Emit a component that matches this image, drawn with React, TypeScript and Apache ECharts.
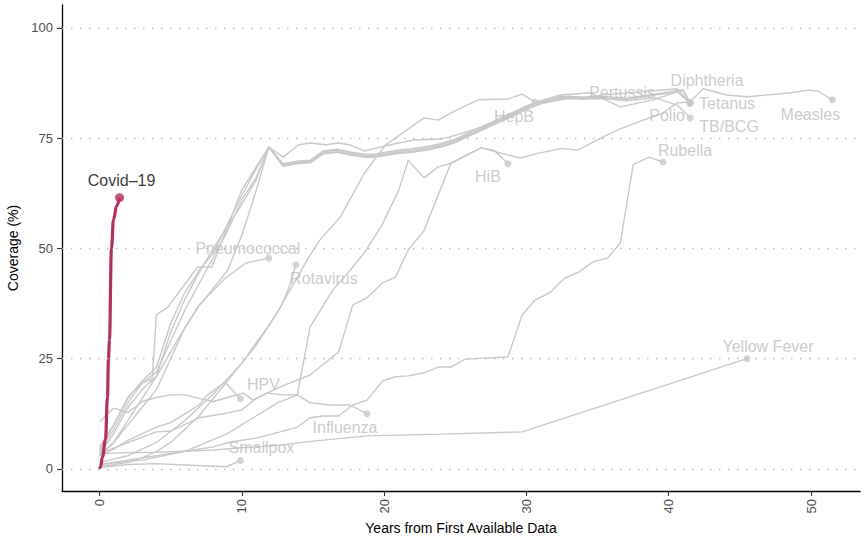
import React, { useEffect, useRef } from "react";
import * as echarts from "echarts";

// ---- data (years from first available data, coverage %) ----
const covid = [[0,0],[0.07,0.5],[0.21,2.7],[0.42,6.6],[0.56,16.3],[0.63,24.9],[0.7,29.3],[0.84,50],[0.98,56.5],[1.2,59.6],[1.41,61.5]];

const smallpox = [[0,0.3],[2,1],[4,1.2],[6,0.9],[8.9,0.5],[9.9,1.9]];
const yellowFever = [[0,3.5],[2,3.7],[4,3.8],[6,4],[8,4.3],[10,4.8],[12.7,5.4],[15,6.3],[18.8,7.5],[24,7.9],[29.7,8.4],[45.5,25]];
const hpv = [[0,3],[1,4.5],[2,6.5],[3,8],[4,9.5],[5,10.5],[6,12.5],[7,14.5],[7.5,16.5],[8.8,19.7],[9.9,15.9]];
const influenza = [[0,10.7],[1,13.8],[2,12.8],[3,15.3],[4,16.2],[5,16.8],[6,16.8],[7,16],[8,15.3],[9,16.2],[10.1,17.2],[10.8,15.6],[11.8,17.2],[12.9,16.8],[13.9,16.8],[14.8,15],[16.2,14.5],[17.6,14.5],[18.8,12.5]];
const rotavirus = [[0,0.5],[2,1.5],[3,2.5],[4,4],[5,6],[6,9],[7,12],[8,16],[9,20],[10,24],[11,28],[12,33],[12.7,36.5],[13.3,41],[13.8,46.3]];
const pneumococcal = [[0,3],[1,6],[2,11],[3,16],[4,21],[5,26.5],[5.5,29.3],[7,37.2],[8.85,43.3],[10.3,46.7],[11.9,47.8]];
const hepB = [[0,1.5],[2,3],[4,6],[6,11],[8,17],[10,24],[11,28.5],[12,33],[12.7,36.7],[14.6,47.4],[15.5,52],[16.9,57],[18.6,67],[20.1,73.5],[21,75.5],[22.8,79.6],[23.8,79.1],[24.8,80.9],[26.6,83.7],[28.7,83.9],[29.7,85],[30.6,83.2]];
const hib = [[0,1],[3,2],[6,4],[9,8],[11,12],[12.5,15],[13.9,16.8],[14.8,32.2],[16.4,40.6],[17.6,45],[18.6,49],[19.8,55],[21,63],[21.7,70],[22.8,66],[23.8,68.5],[24.8,69.4],[26.8,72.8],[27.7,72.3],[28.7,69.2]];
const measles = [[0,3.4],[2,6],[4,8.4],[5,8.6],[7,11.6],[9,12.7],[10,13.4],[11,16],[12.7,18.6],[14.8,21.3],[16.8,26.5],[17.8,37.2],[18.8,38.8],[19.9,42.2],[20.8,43.5],[21.7,49.7],[22.8,54],[24.7,69.4],[26.8,72.8],[28.7,71.2],[29.6,70.5],[30.7,71.5],[32.5,72.7],[33.6,72.3],[35.4,75.3],[36.5,77],[38.2,79.1],[39.5,80.5],[40.6,83],[41.5,83.2],[42.4,86.2],[44.1,84.8],[45.5,84.4],[48.6,85.3],[49.8,85.9],[50.5,85.7],[51.5,83.7]];
const rubella = [[0,1],[2,2],[4,3],[6,4],[8,5],[9.2,6.1],[11,7],[12.7,8.4],[13.9,9.5],[14.8,11.6],[15.7,12],[16.8,12],[17.8,14.5],[18.8,15.6],[19.9,20],[20.8,20.9],[21.7,21.1],[22.8,21.8],[23.8,23.1],[24.7,23.1],[25.7,24.9],[28.7,25.4],[29.7,34.9],[30.6,38.3],[31.7,40.1],[32.7,43.3],[33.7,44.7],[34.7,47],[35.7,47.8],[36.6,51.2],[37.5,69],[38.6,70.7],[39.6,69.6]];
const diphtheria = [[0,4],[1,9],[2,15],[3,19.5],[4,22],[5,29],[6,36],[7,42],[8,48],[9,54],[10,61],[11,66],[11.9,73],[12.9,69],[13.9,69.6],[14.8,69.8],[15.7,71.9],[16.7,72.3],[17.6,71.7],[18.8,71],[19.5,71.2],[21.2,72.1],[22,72.3],[23,72.8],[24,73.5],[25,74.5],[26,76],[27,77.5],[28,79],[29,80.5],[30,82],[31,83.3],[32,84],[33,84.5],[34,84.2],[35,84.5],[36,84.3],[37,84],[38,84.5],[39,85],[40,85.5],[41,86],[41.5,83]];
const tetanus = [[0,3.5],[1,8],[2,14],[3,18],[4,21],[5,31],[6,38.5],[7,44.5],[8,50],[9,55],[10,60],[11,65.5],[11.9,73],[12.9,68.8],[13.9,69.4],[14.8,69.6],[15.7,71.6],[16.7,72],[17.6,71.4],[18.8,70.8],[19.5,71],[21.2,71.8],[22,72],[23,72.5],[24,73.2],[25,74.2],[26,75.8],[27,77.2],[28,78.8],[29,80.2],[30,81.8],[31,83],[32,83.8],[33,84.2],[34,84],[35,84.2],[36,84],[37,83.8],[38,84.2],[39,84.8],[40,85.2],[41,85.8],[41.5,83]];
const pertussis = [[0,4.5],[1,10],[2,16],[3,20],[4,23],[5,33],[6,40],[7,45],[8,49],[9,55.5],[10,62],[11,68],[11.9,73],[12.9,69.2],[13.9,69.8],[14.8,70],[15.7,72.1],[16.7,72.5],[17.6,71.9],[18.8,71.3],[19.5,71.5],[21.2,72.4],[22,72.6],[23,73.1],[24,73.8],[25,74.8],[26,76.3],[27,77.8],[28,79.3],[29,80.8],[30,82.3],[31,83.5],[32.4,84.8],[34.5,85.3],[36.6,82.1],[38.9,83.7],[40.6,85.5],[41.5,83]];
const polio = [[0,3],[1,6],[2,10],[3,14],[4,18],[5,25],[6,32],[7,37],[8,41],[9,45],[10,53],[11,63],[11.9,73],[12.9,68.6],[13.9,69.2],[14.8,69.4],[15.7,71.4],[16.7,71.8],[17.6,71.2],[18.8,70.6],[19.5,70.8],[21.2,71.6],[22,71.8],[23,72.3],[24,73],[25,74],[26,75.5],[27,77],[28,78.5],[29,80],[30,81.5],[31,82.8],[32,83.5],[33,84],[34,83.8],[35,84],[36,83.8],[37,83.5],[38,83.8],[39,84.2],[40.6,82.5],[41.5,79.6]];
const tbBcg = [[0,5],[1,10],[2,16.3],[3,19.5],[3.7,20.4],[4,35],[4.8,36.7],[6.9,45.8],[7.9,45.8],[10,63.3],[11.9,73],[12.9,70.7],[14,73.5],[14.8,73.9],[15.9,73.5],[16.8,73.9],[17.6,73.5],[18.6,72.1],[19.5,72.8],[21,73.9],[22.1,74.6],[24,74.8],[24.6,75.3],[25.8,76.4],[27.9,78.7],[30.6,83],[31.5,83.5],[32.4,84.5],[34,84.3],[36,85],[38,85.5],[40.6,86.2],[41.5,83]];

const diseases = ["Smallpox","Yellow Fever","HPV","Influenza","Rotavirus","Pneumococcal","HepB","HiB","Measles","Rubella","Diphtheria","Tetanus","Pertussis","Polio","TB/BCG"];
const diseaseData = [smallpox, yellowFever, hpv, influenza, rotavirus, pneumococcal, hepB, hib, measles, rubella, diphtheria, tetanus, pertussis, polio, tbBcg];

const xTicks = [0, 10, 20, 30, 40, 50];
const yTicks = [0, 25, 50, 75, 100];

// label placement (pixel offsets from the end dot)
const labelOffsets: Record<string, number[]> = {
  "Smallpox": [21, -13],
  "Yellow Fever": [21, -12],
  "HPV": [23, -14],
  "Influenza": [-22, 14],
  "Rotavirus": [28, 14],
  "Pneumococcal": [-21, -10],
  "HepB": [-21, 14],
  "HiB": [-20, 13],
  "Measles": [-22, 15],
  "Rubella": [22, -12],
  "Diphtheria": [17, -22],
  "Tetanus": [37, 1],
  "Pertussis": [-68, -10],
  "Polio": [-23, -2],
  "TB/BCG": [39, 24],
};

const FONT = "'Liberation Sans', Arial, Helvetica, sans-serif";

export default function App() {
  const ref = useRef<HTMLDivElement>(null);
  useEffect(() => {
    const chart = echarts.init(ref.current!, null, { renderer: "svg" });
    const grey = "#c8c8c8";
    const series: any[] = [];
    series.push({
      type: "line",
      data: [],
      silent: true,
      markLine: {
        silent: true,
        symbol: ["none", "none"],
        label: { show: false },
        lineStyle: { color: "#b4b4b4", type: [1.4, 7.6], width: 1.3 },
        data: yTicks.map((v) => ({ yAxis: v })),
      },
    });
    diseases.forEach((name, i) => {
      series.push({
        type: "line",
        name,
        data: diseaseData[i],
        showSymbol: false,
        silent: true,
        lineStyle: { color: grey, width: 1.4 },
        itemStyle: { color: grey },
      });
    });
    series.push({
      type: "scatter",
      silent: true,
      symbolSize: 7,
      itemStyle: { color: grey },
      data: diseases.map((name, i) => {
        const d = diseaseData[i];
        return {
          name,
          value: d[d.length - 1],
          label: { offset: labelOffsets[name] },
        };
      }),
      label: {
        show: true,
        position: "inside",
        formatter: "{b}",
        color: "#bdbdbd",
        fontSize: 16,
        fontFamily: FONT,
        textBorderWidth: 0,
      },
      z: 3,
    });
    series.push({
      type: "line",
      name: "Covid-19",
      data: covid,
      showSymbol: false,
      smooth: 0.4,
      smoothMonotone: "x",
      silent: true,
      lineStyle: { color: "#b2305f", width: 3.2 },
      itemStyle: { color: "#b2305f" },
      z: 4,
    });
    series.push({
      type: "scatter",
      silent: true,
      symbolSize: 9,
      itemStyle: { color: "#b2305f" },
      data: [{ name: "Covid–19", value: covid[covid.length - 1] }],
      label: {
        show: true,
        position: "inside",
        formatter: "{b}",
        offset: [2, -17],
        color: "#000",
        fontSize: 16,
        fontFamily: FONT,
        textBorderWidth: 0,
      },
      z: 5,
    });

    chart.setOption({
      animation: false,
      backgroundColor: "#fff",
      grid: { left: 62, right: 2, top: 5, bottom: 48, containLabel: false, outerBoundsMode: "none" },
      xAxis: {
        type: "value",
        min: -2.635,
        max: 53.44,
        axisLine: { show: true, onZero: false, lineStyle: { color: "#000", width: 1.3 } },
        axisTick: { show: true, customValues: xTicks, length: 5, lineStyle: { color: "#333", width: 1.1 } },
        axisLabel: { customValues: xTicks, rotate: 90, color: "#4d4d4d", fontSize: 13, margin: 8, fontFamily: FONT },
        splitLine: { show: false },
        name: "Years from First Available Data",
        nameLocation: "middle",
        nameGap: 27,
        nameTextStyle: { color: "#000", fontSize: 14, fontFamily: FONT },
      },
      yAxis: {
        type: "value",
        min: -5,
        max: 105.2,
        axisLine: { show: true, onZero: false, lineStyle: { color: "#000", width: 1.3 } },
        axisTick: { show: true, customValues: yTicks, length: 5, lineStyle: { color: "#333", width: 1.1 } },
        axisLabel: { customValues: yTicks, color: "#4d4d4d", fontSize: 13, margin: 9, fontFamily: FONT },
        splitLine: { show: false },
        name: "Coverage (%)",
        nameLocation: "middle",
        nameGap: 38,
        nameRotate: 90,
        nameTextStyle: { color: "#000", fontSize: 14, fontFamily: FONT },
      },
      series,
    });
    return () => chart.dispose();
  }, []);
  return <div ref={ref} style={{ position: "fixed", left: 0, top: 0, width: 862, height: 539 }} />;
}
